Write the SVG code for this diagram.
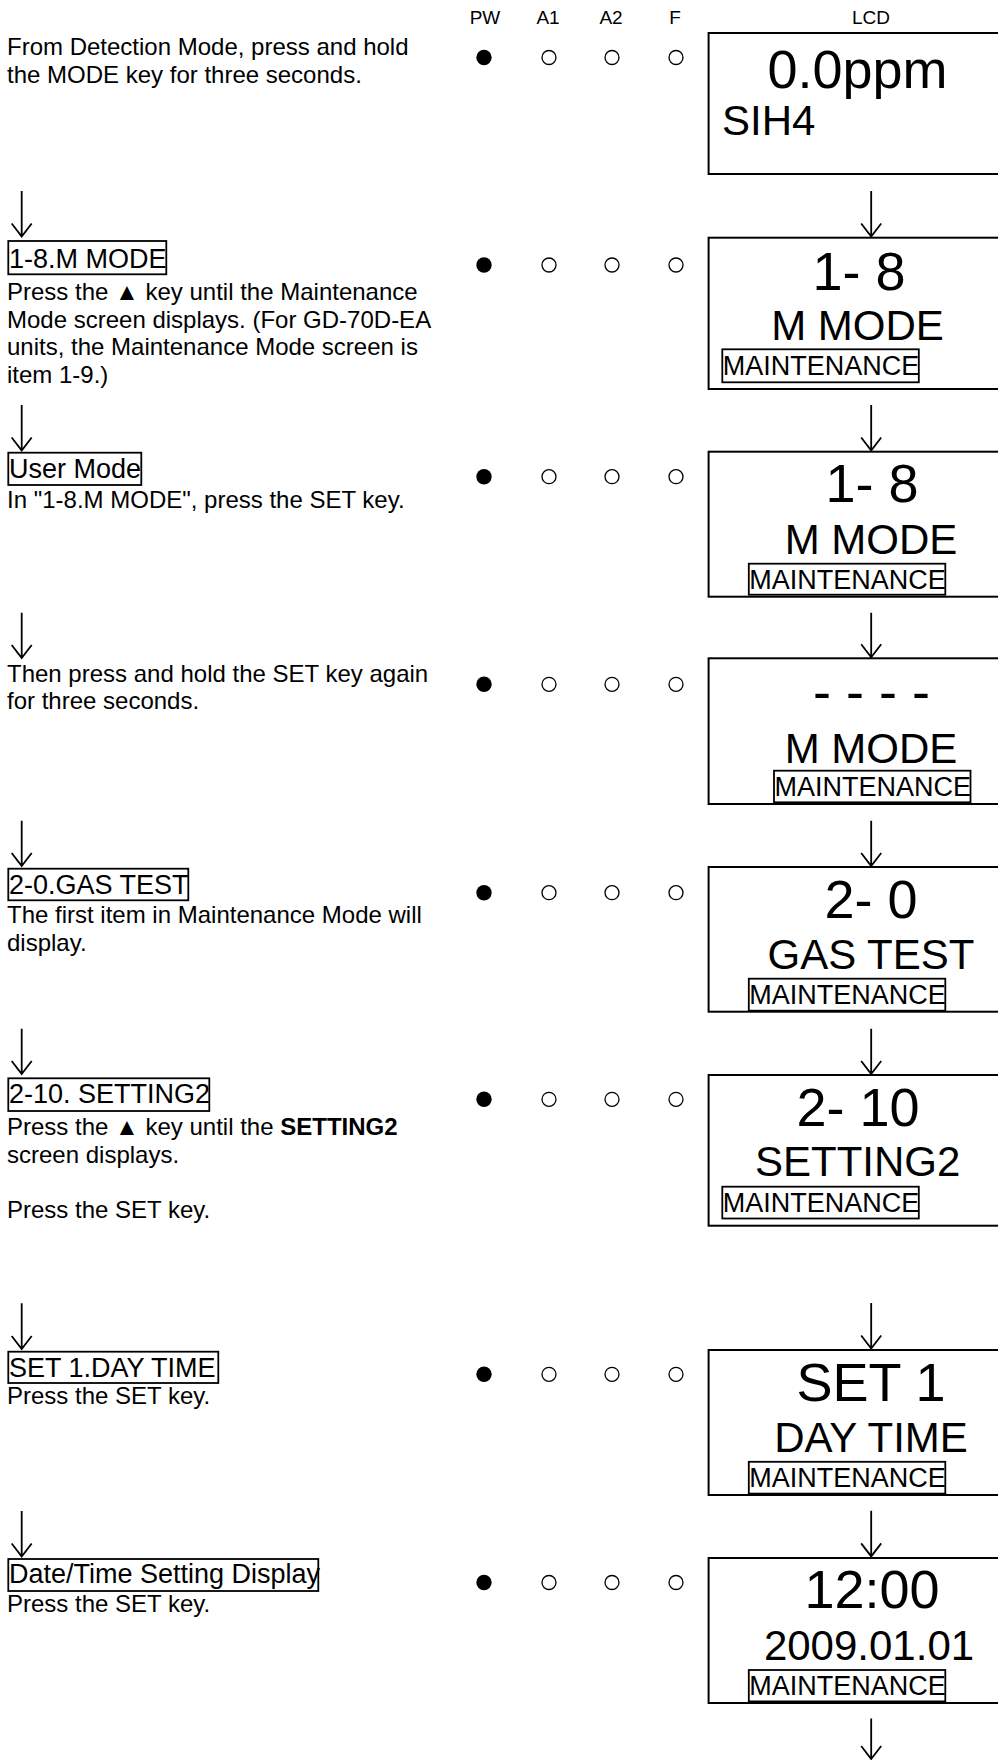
<svg xmlns="http://www.w3.org/2000/svg" width="998" height="1760" viewBox="0 0 998 1760">
<defs>
<style>
text{font-family:"Liberation Sans",Arial,sans-serif;fill:#000}
.body{font-size:24px}
.lbl{font-size:27px}
.hdr{font-size:19px;text-anchor:middle}
.big{font-size:54px;text-anchor:middle}
.mid{font-size:42px;text-anchor:middle}
.mt{font-size:27px}
.lbox{fill:none;stroke:#000;stroke-width:1.8}
.lcd{fill:#fff;stroke:#000;stroke-width:2}
.on{fill:#000}
.off{fill:#fff;stroke:#000;stroke-width:1.3}
.arr{fill:none;stroke:#000;stroke-width:1.8}
</style>
<g id="leds">
<circle class="on" cx="484" cy="0" r="7.7"/>
<circle class="off" cx="549" cy="0" r="7"/>
<circle class="off" cx="612" cy="0" r="7"/>
<circle class="off" cx="676" cy="0" r="7"/>
</g>
</defs>
<rect x="0" y="0" width="998" height="1760" fill="#fff"/>

<g id="header">
<text class="hdr" x="485" y="24">PW</text>
<text class="hdr" x="548" y="24">A1</text>
<text class="hdr" x="611" y="24">A2</text>
<text class="hdr" x="675" y="24">F</text>
<text class="hdr" x="871" y="24">LCD</text>
</g>

<g id="connectors">
<path class="arr" d="M21.7 191V236.5M11.7 223.5L21.7 236.5L31.7 223.5"/>
<path class="arr" d="M21.7 405V450.5M11.7 437.5L21.7 450.5L31.7 437.5"/>
<path class="arr" d="M21.7 612.7V658M11.7 645L21.7 658L31.7 645"/>
<path class="arr" d="M21.7 820.7V866M11.7 853L21.7 866L31.7 853"/>
<path class="arr" d="M21.7 1028.7V1074M11.7 1061L21.7 1074L31.7 1061"/>
<path class="arr" d="M21.7 1303.3V1349M11.7 1336L21.7 1349L31.7 1336"/>
<path class="arr" d="M21.7 1511V1556.5M11.7 1543.5L21.7 1556.5L31.7 1543.5"/>
<path class="arr" d="M871.2 191V236.5M861.2 223.5L871.2 236.5L881.2 223.5"/>
<path class="arr" d="M871.2 405V450.5M861.2 437.5L871.2 450.5L881.2 437.5"/>
<path class="arr" d="M871.2 612.7V657.3M861.2 644.3L871.2 657.3L881.2 644.3"/>
<path class="arr" d="M871.2 820.7V866M861.2 853L871.2 866L881.2 853"/>
<path class="arr" d="M871.2 1028.7V1074M861.2 1061L871.2 1074L881.2 1061"/>
<path class="arr" d="M871.2 1303V1348.5M861.2 1335.5L871.2 1348.5L881.2 1335.5"/>
<path class="arr" d="M871.2 1510.7V1556.4M861.2 1543.4L871.2 1556.4L881.2 1543.4"/>
<path class="arr" d="M871.2 1718.6V1759M861.2 1746L871.2 1759L881.2 1746"/>
</g>

<g id="step1">
<text class="body" x="7" y="55">From Detection Mode, press and hold</text>
<text class="body" x="7" y="82.7">the MODE key for three seconds.</text>
</g>
<use id="led1" href="#leds" y="57.5"/>
<g id="lcd1">
<rect class="lcd" x="708.6" y="33" width="330" height="141"/>
<text class="big" x="857.5" y="88">0.0ppm</text>
<text x="722" y="135" style="font-size:42px">SIH4</text>
</g>

<g id="step2">
<rect class="lbox" x="8.3" y="241" width="158" height="33.3"/>
<text class="lbl" x="9" y="268">1-8.M MODE</text>
<text class="body" x="7" y="300">Press the ▲ key until the Maintenance</text>
<text class="body" x="7" y="327.7">Mode screen displays. (For GD-70D-EA</text>
<text class="body" x="7" y="355">units, the Maintenance Mode screen is</text>
<text class="body" x="7" y="382.7">item 1-9.)</text>
</g>
<use id="led2" href="#leds" y="265"/>
<g id="lcd2">
<rect class="lcd" x="708.6" y="237.7" width="330" height="151.3"/>
<text class="big" x="859" y="290">1- 8</text>
<text class="mid" x="857.5" y="340">M MODE</text>
<rect class="lbox" x="722.3" y="349.3" width="196.5" height="33"/>
<text class="mt" x="722.8" y="374.8">MAINTENANCE</text>
</g>

<g id="step3">
<rect class="lbox" x="8.3" y="452.7" width="133" height="32.3"/>
<text class="lbl" x="9" y="478.3">User Mode</text>
<text class="body" x="7" y="507.7">In "1-8.M MODE", press the SET key.</text>
</g>
<use id="led3" href="#leds" y="476.7"/>
<g id="lcd3">
<rect class="lcd" x="708.6" y="451.7" width="330" height="145"/>
<text class="big" x="872" y="502.3">1- 8</text>
<text class="mid" x="871" y="554">M MODE</text>
<rect class="lbox" x="748.8" y="563.7" width="196.5" height="31"/>
<text class="mt" x="749.3" y="588.5">MAINTENANCE</text>
</g>

<g id="step4">
<text class="body" x="7" y="681.7">Then press and hold the SET key again</text>
<text class="body" x="7" y="709.3">for three seconds.</text>
</g>
<use id="led4" href="#leds" y="684.3"/>
<g id="lcd4">
<rect class="lcd" x="708.6" y="658.3" width="330" height="145.7"/>
<text class="big" x="871.4" y="710">- - - -</text>
<text class="mid" x="871" y="762.7">M MODE</text>
<rect class="lbox" x="774" y="770.7" width="196.5" height="31.6"/>
<text class="mt" x="774.5" y="796">MAINTENANCE</text>
</g>

<g id="step5">
<rect class="lbox" x="8.3" y="868.7" width="180" height="31.6"/>
<text class="lbl" x="9" y="894">2-0.GAS TEST</text>
<text class="body" x="7" y="923.3">The first item in Maintenance Mode will</text>
<text class="body" x="7" y="950.7">display.</text>
</g>
<use id="led5" href="#leds" y="892.7"/>
<g id="lcd5">
<rect class="lcd" x="708.6" y="867" width="330" height="144.7"/>
<text class="big" x="871" y="918.3">2- 0</text>
<text class="mid" x="871" y="969.3">GAS TEST</text>
<rect class="lbox" x="748.8" y="978.7" width="196.5" height="32"/>
<text class="mt" x="749.3" y="1004">MAINTENANCE</text>
</g>

<g id="step6">
<rect class="lbox" x="8.3" y="1078.3" width="201" height="32.7"/>
<text class="lbl" x="9" y="1103.3">2-10. SETTING2</text>
<text class="body" x="7" y="1135">Press the ▲ key until the <tspan font-weight="bold">SETTING2</tspan></text>
<text class="body" x="7" y="1163.3">screen displays.</text>
<text class="body" x="7" y="1218.3">Press the SET key.</text>
</g>
<use id="led6" href="#leds" y="1099.3"/>
<g id="lcd6">
<rect class="lcd" x="708.6" y="1075" width="330" height="150.7"/>
<text class="big" x="858" y="1125.7">2- 10</text>
<text class="mid" x="857.7" y="1175.7">SETTING2</text>
<rect class="lbox" x="722.3" y="1186.7" width="196.5" height="31.8"/>
<text class="mt" x="722.8" y="1212">MAINTENANCE</text>
</g>

<g id="step7">
<rect class="lbox" x="8.3" y="1351.7" width="210" height="31.3"/>
<text class="lbl" x="9" y="1376.7">SET 1.DAY TIME</text>
<text class="body" x="7" y="1404">Press the SET key.</text>
</g>
<use id="led7" href="#leds" y="1374.3"/>
<g id="lcd7">
<rect class="lcd" x="708.6" y="1350" width="330" height="145"/>
<text class="big" x="871" y="1401">SET 1</text>
<text class="mid" x="871" y="1451.8">DAY TIME</text>
<rect class="lbox" x="748.8" y="1461.8" width="196.5" height="31.8"/>
<text class="mt" x="749.3" y="1487">MAINTENANCE</text>
</g>

<g id="step8">
<rect class="lbox" x="8.3" y="1559" width="310" height="32"/>
<text class="lbl" x="9" y="1583.3">Date/Time Setting Display</text>
<text class="body" x="7" y="1612.3">Press the SET key.</text>
</g>
<use id="led8" href="#leds" y="1582.5"/>
<g id="lcd8">
<rect class="lcd" x="708.6" y="1558" width="330" height="145"/>
<text class="big" x="872" y="1608.2">12:00</text>
<text class="mid" x="869" y="1659.6">2009.01.01</text>
<rect class="lbox" x="748.8" y="1670" width="196.5" height="31.4"/>
<text class="mt" x="749.3" y="1695.3">MAINTENANCE</text>
</g>
</svg>
